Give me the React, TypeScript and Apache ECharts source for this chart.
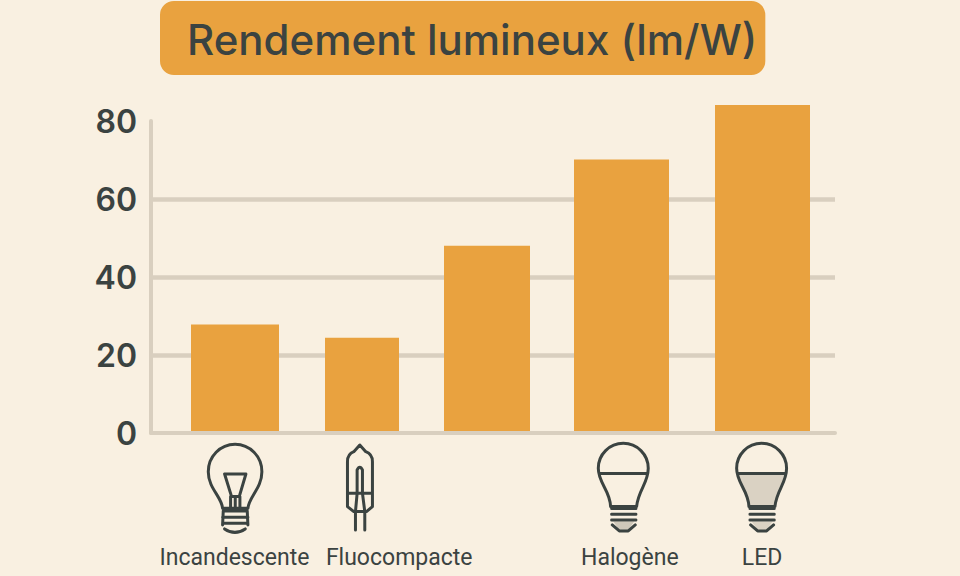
import React, { useEffect, useRef } from "react";
import * as echarts from "echarts";

const titleText = "Rendement lumineux (lm/W)";
const categories = ["Incandescente", "Fluocompacte", "", "Halogène", "LED"];
const values = [27.8, 24.4, 48, 70.1, 84.1];
const yTicks = { min: 0, max: 80, interval: 20 };

// Hand-placed layout of the source picture (irregular bars and labels)
const barOffsets = [15.6, 5.8, -6, -8.3, -4.1];
const barWidths = [88, 74, 86, 95, 95];
const labelPadding: number[][] = [
  [0, 0, 0, 30],
  [0, 0, 0, 86],
  [0, 0, 0, 0],
  [0, 0, 0, 0],
  [0, 9, 0, 0],
];

const INK = "#3B4341";
const ORANGE = "#E9A23F";
const RULE = "#D9CFBF";
const BG = "#F9F0E1";

const shapes: Record<string, string> = {
  bulbClassic:
    "M218 235C215 200 175 175 175 125A80 82 0 1 1 336 125C336 175 297 200 294 235Z" +
    "M224 132L288 132L268 200L245 200ZM242 200V235M256 200V235M270 200V235" +
    "M222 243H290M218 262H294M218 280H294M224 297Q255 318 286 297M220 243L218 285M292 243L294 285",
  bulbCapsule:
    "M630 45L648 65Q668 72 668 95L668 230L650 245L612 245L593 230L593 95Q593 72 612 65Z" +
    "M593 190H668M617 245V300M645 245V300" +
    "M622 190V120Q630 104 638 120V190M622 190L617 245M638 190L645 245",
  bulbModern:
    "M152 230C150 180 115 160 115 115A75 75 0 1 1 265 115C265 160 235 180 230 230Z" +
    "M117 131H263M155 236H228M155 253H228M155 270H228M157 285L178 303H205L226 285",
  modernFill: "M119 131H261C258 165 235 185 230 230H152C148 185 122 165 119 131Z",
  capFill: "M160 275H223L205 300H178Z",
};
Object.keys(shapes).forEach((k) => {
  echarts.graphic.registerShape(k, echarts.graphic.extendPath(shapes[k], {}) as any);
});

export default function App() {
  const ref = useRef<HTMLDivElement>(null);
  useEffect(() => {
    const chart = echarts.init(ref.current!, null, { renderer: "svg" });
    const third = { scaleX: 1 / 3, scaleY: 1 / 3, silent: true };
    const ledX = 560 + 415 / 3;
    chart.setOption({
      animation: false,
      backgroundColor: BG,
      title: {
        text: titleText,
        left: 160,
        top: 1,
        backgroundColor: ORANGE,
        borderRadius: 14,
        padding: [14, 8, 12, 27],
        textStyle: { color: INK, fontFamily: "Inter", fontWeight: 500, fontSize: 42, lineHeight: 48 },
      },
      grid: { left: 151, right: 125, top: 121, bottom: 143 },
      xAxis: {
        type: "category",
        data: categories.map((c, i) => ({ value: c, textStyle: { padding: labelPadding[i] } })),
        z: 3,
        axisLine: { show: true, lineStyle: { color: RULE, width: 4, cap: "round" } },
        axisTick: { show: false },
        axisLabel: { interval: 0, margin: 113, color: INK, fontFamily: "Roboto", fontWeight: 400, fontSize: 23 },
      },
      yAxis: {
        type: "value",
        min: yTicks.min,
        max: yTicks.max,
        interval: yTicks.interval,
        axisLine: { show: true, lineStyle: { color: RULE, width: 4 } },
        axisTick: { show: false },
        splitLine: { show: true, showMinLine: false, showMaxLine: false, lineStyle: { color: RULE, width: 4.5 } },
        axisLabel: { margin: 14, color: INK, fontFamily: "Inter", fontWeight: 600, fontSize: 32, padding: [4, 0, 0, 0] },
      },
      series: [
        {
          type: "custom",
          clip: false,
          encode: { x: 0, y: 1 },
          data: values.map((v, i) => [i, v]),
          renderItem: (params: any, api: any) => {
            const i = params.dataIndex;
            const top = api.coord([api.value(0), api.value(1)]);
            const base = api.coord([api.value(0), 0]);
            const w = barWidths[i];
            return {
              type: "rect",
              shape: { x: top[0] + barOffsets[i] - w / 2, y: top[1], width: w, height: base[1] - top[1] },
              style: { fill: ORANGE },
            };
          },
        },
      ],
      graphic: [
        { type: "modernFill", x: ledX, y: 430, ...third, style: { fill: "#DAD2C3" } },
        { type: "capFill", x: 560, y: 430, ...third, style: { fill: "#CFC8BA" } },
        { type: "capFill", x: ledX, y: 430, ...third, style: { fill: "#DAD2C3" } },
        ...[
          { type: "bulbClassic", x: 150 },
          { type: "bulbCapsule", x: 150 },
          { type: "bulbModern", x: 560 },
          { type: "bulbModern", x: ledX },
        ].map((s) => ({
          ...s,
          y: 430,
          ...third,
          style: { fill: "none", stroke: INK, lineWidth: 9, lineCap: "round", lineJoin: "round" },
        })),
      ],
    });
    return () => chart.dispose();
  }, []);
  return <div ref={ref} style={{ position: "absolute", left: 0, top: 0, width: 960, height: 576 }} />;
}
